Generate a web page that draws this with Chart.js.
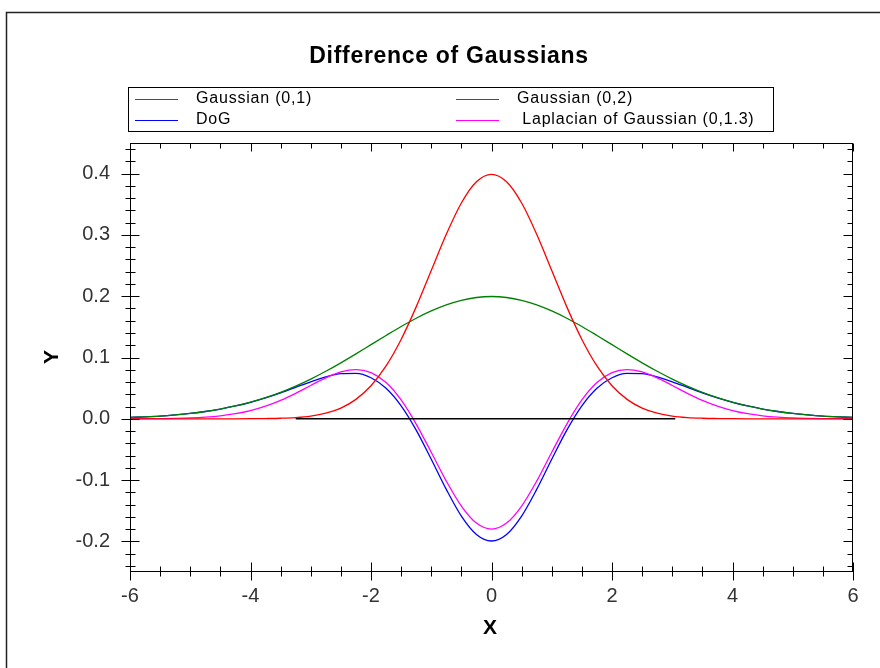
<!DOCTYPE html>
<html>
<head>
<meta charset="utf-8">
<script src="https://cdn.jsdelivr.net/npm/chart.js@4/dist/chart.umd.min.js"></script>
<style>
  html, body { margin: 0; padding: 0; background: #fff; }
  canvas { display: block; }
</style>
</head>
<body>
<canvas id="dog" width="880" height="668"></canvas>
<script>
// Sample positions along X (step 0.25 from -6 to 6)
const xValues = [
  -6, -5.75, -5.5, -5.25, -5, -4.75, -4.5, -4.25, -4, -3.75, -3.5, -3.25,
  -3, -2.75, -2.5, -2.25, -2, -1.75, -1.5, -1.25, -1, -0.75, -0.5, -0.25,
  0,
  0.25, 0.5, 0.75, 1, 1.25, 1.5, 1.75, 2, 2.25, 2.5, 2.75, 3,
  3.25, 3.5, 3.75, 4, 4.25, 4.5, 4.75, 5, 5.25, 5.5, 5.75, 6
];

// Gaussian, mean 0, sigma 1
const gauss01 = [
  0, 0, 0, 0, 0, 0, 0, 0, 0.0001, 0.0004, 0.0009, 0.0020,
  0.0044, 0.0091, 0.0175, 0.0317, 0.0540, 0.0863, 0.1295, 0.1826, 0.2420, 0.3011, 0.3521, 0.3867,
  0.3989,
  0.3867, 0.3521, 0.3011, 0.2420, 0.1826, 0.1295, 0.0863, 0.0540, 0.0317, 0.0175, 0.0091, 0.0044,
  0.0020, 0.0009, 0.0004, 0.0001, 0, 0, 0, 0, 0, 0, 0, 0
];

// Gaussian, mean 0, sigma 2
const gauss02 = [
  0.0022, 0.0032, 0.0045, 0.0064, 0.0088, 0.0119, 0.0159, 0.0209, 0.0270, 0.0344, 0.0431, 0.0533,
  0.0648, 0.0775, 0.0913, 0.1059, 0.1210, 0.1360, 0.1506, 0.1641, 0.1760, 0.1859, 0.1933, 0.1979,
  0.1995,
  0.1979, 0.1933, 0.1859, 0.1760, 0.1641, 0.1506, 0.1360, 0.1210, 0.1059, 0.0913, 0.0775, 0.0648,
  0.0533, 0.0431, 0.0344, 0.0270, 0.0209, 0.0159, 0.0119, 0.0088, 0.0064, 0.0045, 0.0032, 0.0022
];

// Difference of the two Gaussians
const dog = [
  0.0022, 0.0032, 0.0045, 0.0064, 0.0088, 0.0119, 0.0159, 0.0209, 0.0269, 0.0340, 0.0422, 0.0513,
  0.0604, 0.0684, 0.0738, 0.0742, 0.0670, 0.0497, 0.0211, -0.0185, -0.0660, -0.1152, -0.1588, -0.1888,
  -0.1994,
  -0.1888, -0.1588, -0.1152, -0.0660, -0.0185, 0.0211, 0.0497, 0.0670, 0.0742, 0.0738, 0.0684, 0.0604,
  0.0513, 0.0422, 0.0340, 0.0269, 0.0209, 0.0159, 0.0119, 0.0088, 0.0064, 0.0045, 0.0032, 0.0022
];

// Laplacian of Gaussian, sigma 1.3
const logCurve = [
  0.0001, 0.0002, 0.0004, 0.0008, 0.0015, 0.0028, 0.0049, 0.0083, 0.0134, 0.0206, 0.0300, 0.0415,
  0.0543, 0.0668, 0.0764, 0.0803, 0.0753, 0.0591, 0.0307, -0.0086, -0.0547, -0.1017, -0.1424, -0.1702,
  -0.1800,
  -0.1702, -0.1424, -0.1017, -0.0547, -0.0086, 0.0307, 0.0591, 0.0753, 0.0803, 0.0764, 0.0668, 0.0543,
  0.0415, 0.0300, 0.0206, 0.0134, 0.0083, 0.0049, 0.0028, 0.0015, 0.0008, 0.0004, 0.0002, 0.0001
];

// Zero reference segment
const zeroLineX = [-3.25, 3.05];
const zeroLineY = [0, 0];

const seriesLabels = ['Gaussian (0,1)', 'Gaussian (0,2)', 'DoG', ' Laplacian of Gaussian (0,1.3)'];
const seriesColors = ['#ff0000', '#008000', '#0000ff', '#ff00ff'];
const xTickValues = [-6, -4, -2, 0, 2, 4, 6];
const yTickValues = [-0.2, -0.1, 0.0, 0.1, 0.2, 0.3, 0.4];

const FONT = "'Liberation Sans', Arial, Helvetica, sans-serif";

const toPoints = (xs, ys) => xs.map((x, i) => ({ x, y: ys[i] }));

const curveStyle = {
  borderWidth: 1.3,
  pointRadius: 0,
  fill: false,
  cubicInterpolationMode: 'monotone'
};

const decorations = {
  id: 'decorations',
  beforeDraw(chart) {
    const ctx = chart.ctx;
    ctx.save();
    ctx.fillStyle = '#ffffff';
    ctx.fillRect(0, 0, chart.width, chart.height);
    // outer frame
    ctx.strokeStyle = '#222';
    ctx.lineWidth = 1.5;
    ctx.beginPath();
    ctx.moveTo(6.5, chart.height);
    ctx.lineTo(6.5, 12.5);
    ctx.lineTo(chart.width, 12.5);
    ctx.stroke();
    ctx.restore();
  },
  afterDraw(chart) {
    const { ctx, chartArea: a, scales } = chart;
    const xs = scales.x, ys = scales.y;
    ctx.save();
    ctx.strokeStyle = '#000';
    ctx.lineWidth = 1;
    // plot frame
    const L = Math.round(a.left) + 0.5, R = Math.round(a.right) - 0.5;
    const T = Math.round(a.top) + 0.5, B = Math.round(a.bottom) - 0.5;
    ctx.strokeRect(L, T, R - L, B - T);

    ctx.beginPath();
    // X axis ticks: major every 2, minor every 0.5
    for (let i = -12; i <= 12; i++) {
      const v = i * 0.5;
      const px = Math.round(xs.getPixelForValue(v)) + 0.5;
      const major = i % 4 === 0;
      const len = major ? 9 : 5;
      ctx.moveTo(px, B - len); ctx.lineTo(px, B + len);
      ctx.moveTo(px, T); ctx.lineTo(px, T + (major ? 8 : 5));
    }
    // Y axis ticks: major every 0.1, minor every 0.02
    for (let i = -12; i <= 22; i++) {
      const v = i * 0.02;
      const py = Math.round(ys.getPixelForValue(v)) + 0.5;
      const major = i % 5 === 0;
      const len = major ? 9 : 5;
      ctx.moveTo(L - len, py); ctx.lineTo(L + len, py);
      ctx.moveTo(R, py); ctx.lineTo(R - len, py);
    }
    ctx.stroke();

    // Title
    ctx.fillStyle = '#000';
    ctx.textAlign = 'center';
    ctx.textBaseline = 'middle';
    ctx.font = 'bold 23px ' + FONT;
    ctx.letterSpacing = '0.7px';
    ctx.fillText('Difference of Gaussians', 449, 57);
    ctx.letterSpacing = '0px';

    // Axis titles
    ctx.font = 'bold 21px ' + FONT;
    ctx.fillText('X', 490, 628);
    ctx.save();
    ctx.translate(52, 357);
    ctx.rotate(-Math.PI / 2);
    ctx.fillText('Y', 0, 0);
    ctx.restore();

    // Legend box
    ctx.lineWidth = 1;
    ctx.strokeRect(128.5, 87.5, 645, 44);
    const cells = [
      { x: 135, y: 98.5 }, { x: 456, y: 98.5 },
      { x: 135, y: 119.5 }, { x: 456, y: 119.5 }
    ];
    ctx.font = '16px ' + FONT;
    ctx.textAlign = 'left';
    ctx.letterSpacing = '0.8px';
    chart.data.datasets.forEach(ds => {
      const k = seriesLabels.indexOf(ds.label);
      if (k < 0) return;
      const c = cells[k];
      ctx.strokeStyle = ds.borderColor;
      ctx.beginPath();
      ctx.moveTo(c.x, Math.round(c.y) + 0.5);
      ctx.lineTo(c.x + 43, Math.round(c.y) + 0.5);
      ctx.stroke();
      ctx.fillStyle = '#000';
      ctx.fillText(ds.label, c.x + 61, c.y);
    });
    ctx.restore();
  }
};

new Chart(document.getElementById('dog'), {
  type: 'line',
  data: {
    datasets: [
      { label: seriesLabels[2], data: toPoints(xValues, dog), borderColor: seriesColors[2], order: 4, ...curveStyle },
      { label: seriesLabels[3], data: toPoints(xValues, logCurve), borderColor: seriesColors[3], order: 3, ...curveStyle },
      { label: seriesLabels[1], data: toPoints(xValues, gauss02), borderColor: seriesColors[1], order: 2, ...curveStyle },
      { label: 'zero', data: toPoints(zeroLineX, zeroLineY), borderColor: '#000', borderWidth: 1.5, pointRadius: 0, order: 0 },
      { label: seriesLabels[0], data: toPoints(xValues, gauss01), borderColor: seriesColors[0], order: 1, ...curveStyle }
    ]
  },
  options: {
    responsive: false,
    animation: false,
    devicePixelRatio: 1,
    layout: { padding: { left: 0, top: 143, right: 27, bottom: 0 } },
    plugins: {
      legend: { display: false },
      title: { display: false },
      tooltip: { enabled: false }
    },
    scales: {
      x: {
        type: 'linear',
        min: -6,
        max: 6,
        afterFit(scale) { scale.height = 96; },
        afterBuildTicks(scale) { scale.ticks = xTickValues.map(v => ({ value: v })); },
        grid: { display: false, drawTicks: false },
        border: { display: false },
        ticks: {
          padding: 12,
          color: '#333',
          font: { family: FONT, size: 20 },
          maxRotation: 0,
          callback: v => String(v)
        }
      },
      y: {
        type: 'linear',
        min: -0.25,
        max: 0.45,
        afterFit(scale) { scale.width = 130; },
        afterBuildTicks(scale) { scale.ticks = yTickValues.map(v => ({ value: v })); },
        grid: { display: false, drawTicks: false },
        border: { display: false },
        ticks: {
          padding: 20,
          color: '#333',
          font: { family: FONT, size: 20 },
          callback: v => Number(v).toFixed(1)
        }
      }
    }
  },
  plugins: [decorations]
});
</script>
</body>
</html>
